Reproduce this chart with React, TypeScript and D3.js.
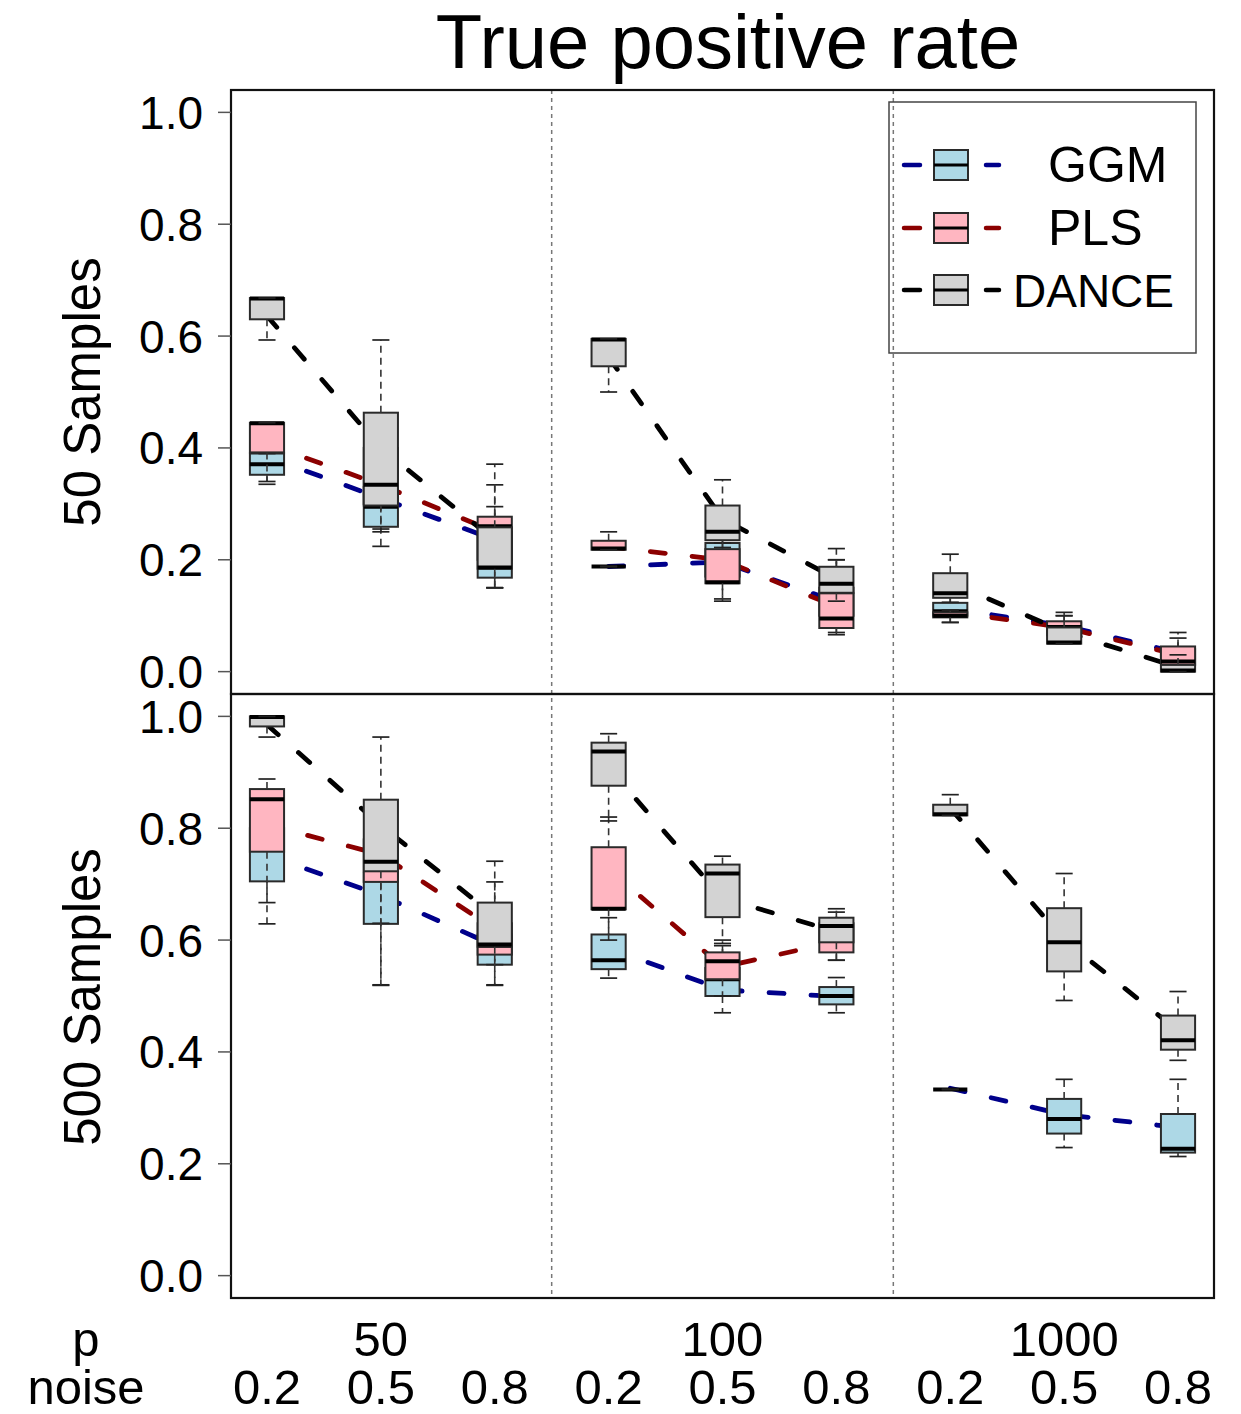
import React from 'react';
import * as d3 from 'd3';

// box stats per position: [lower whisker, q1, median, q3, upper whisker]
type Stat = number[] | null;

const pLabels = ['50', '100', '1000'];
const noiseLabels = ['0.2', '0.5', '0.8', '0.2', '0.5', '0.8', '0.2', '0.5', '0.8'];
const methods = ['GGM', 'PLS', 'DANCE'];

// 50 samples
const ggm50: Stat[] = [
  [0.335, 0.352, 0.371, 0.39, 0.39],
  [0.224, 0.259, 0.295, 0.33, 0.38],
  [0.15, 0.168, 0.19, 0.25, 0.295],
  [0.188, 0.188, 0.188, 0.188, 0.188],
  [0.13, 0.17, 0.2, 0.23, 0.26],
  [0.07, 0.1, 0.12, 0.15, 0.2],
  [0.088, 0.1, 0.108, 0.123, 0.135],
  [0.06, 0.07, 0.08, 0.088, 0.1],
  [0.005, 0.015, 0.025, 0.04, 0.06],
];
const pls50: Stat[] = [
  [0.34, 0.392, 0.444, 0.445, 0.445],
  [0.25, 0.3, 0.32, 0.4, 0.45],
  [0.15, 0.2, 0.26, 0.277, 0.334],
  [0.218, 0.218, 0.22, 0.234, 0.25],
  [0.126, 0.158, 0.16, 0.219, 0.23],
  [0.066, 0.078, 0.095, 0.14, 0.2],
  [0.088, 0.097, 0.1, 0.106, 0.11],
  [0.055, 0.065, 0.08, 0.09, 0.1],
  [0.005, 0.012, 0.018, 0.045, 0.07],
];
const dance50: Stat[] = [
  [0.593, 0.63, 0.667, 0.668, 0.668],
  [0.255, 0.297, 0.334, 0.463, 0.593],
  [0.15, 0.184, 0.186, 0.258, 0.371],
  [0.5, 0.546, 0.594, 0.595, 0.595],
  [0.222, 0.235, 0.25, 0.297, 0.343],
  [0.126, 0.141, 0.157, 0.1875, 0.22],
  [0.124, 0.132, 0.14, 0.176, 0.21],
  [0.05, 0.05, 0.052, 0.079, 0.106],
  [0.0, 0.0, 0.002, 0.012, 0.03],
];
const ggm50Mean = [0.384, 0.31, 0.236, 0.188, 0.196, 0.125, 0.113, 0.082, 0.034];
const pls50Mean = [0.407, 0.334, 0.25, 0.223, 0.2, 0.116, 0.107, 0.079, 0.03];
const dance50Mean = [0.636, 0.4, 0.235, 0.5625, 0.273, 0.166, 0.16, 0.071, 0.008];

// 500 samples
const ggm500: Stat[] = [
  [0.629, 0.705, 0.78, 0.8, 0.85],
  [0.52, 0.629, 0.71, 0.72, 0.8],
  [0.519, 0.556, 0.58, 0.61, 0.66],
  [0.532, 0.548, 0.564, 0.61, 0.64],
  [0.47, 0.5, 0.53, 0.55, 0.59],
  [0.47, 0.485, 0.5, 0.516, 0.533],
  [0.333, 0.333, 0.333, 0.333, 0.333],
  [0.229, 0.254, 0.28, 0.316, 0.351],
  [0.213, 0.22, 0.227, 0.289, 0.351],
];
const pls500: Stat[] = [
  [0.667, 0.758, 0.852, 0.87, 0.888],
  [0.63, 0.704, 0.73, 0.78, 0.84],
  [0.556, 0.574, 0.59, 0.63, 0.704],
  [0.6, 0.655, 0.656, 0.766, 0.82],
  [0.5, 0.53, 0.562, 0.578, 0.6],
  [0.564, 0.578, 0.6, 0.63, 0.65],
  null,
  null,
  null,
];
const dance500: Stat[] = [
  [0.963, 0.982, 0.999, 1.0, 1.0],
  [0.519, 0.723, 0.74, 0.851, 0.963],
  [0.52, 0.588, 0.592, 0.667, 0.741],
  [0.813, 0.876, 0.937, 0.953, 0.969],
  [0.594, 0.641, 0.719, 0.735, 0.75],
  [0.564, 0.596, 0.625, 0.64, 0.656],
  [0.823, 0.823, 0.825, 0.842, 0.86],
  [0.492, 0.544, 0.596, 0.657, 0.719],
  [0.385, 0.404, 0.421, 0.465, 0.508],
];
const ggm500Mean = [0.752, 0.68, 0.59, 0.586, 0.511, 0.499, 0.335, 0.288, 0.265];
const pls500Mean: (number | null)[] = [0.806, 0.753, 0.62, 0.727, 0.552, 0.597, null, null, null];
const dance500Mean = [0.985, 0.805, 0.643, 0.908, 0.675, 0.615, 0.836, 0.6, 0.438];

const fills = ['#ADD8E6', '#FFB6C1', '#D3D3D3'];
const lineCols = ['#00008B', '#8B0000', '#000000'];
const font = '"Liberation Sans", Arial, Helvetica, sans-serif';

const left = 231, right = 1214;
const x = d3.scaleLinear().domain([0.684, 9.316]).range([left, right]);
const halfW = x(1.15) - x(1);

const Box = ({ s, pos, y, fill }: { s: number[]; pos: number; y: d3.ScaleLinear<number, number>; fill: string }) => {
  const cx = x(pos);
  const [lo, q1, med, q3, hi] = s;
  return (
    <g>
      <rect x={cx - halfW} y={y(q3)} width={2 * halfW} height={Math.max(0, y(q1) - y(q3))}
        fill={fill} stroke="#2a2a2a" strokeWidth={2} />
      <line x1={cx - halfW} x2={cx + halfW} y1={y(med)} y2={y(med)} stroke="#000" strokeWidth={4} />
      <line x1={cx} x2={cx} y1={y(q1)} y2={y(lo)} stroke="#333" strokeWidth={1.6} strokeDasharray="7 5" />
      <line x1={cx} x2={cx} y1={y(q3)} y2={y(hi)} stroke="#333" strokeWidth={1.6} strokeDasharray="7 5" />
      <line x1={cx - halfW / 2} x2={cx + halfW / 2} y1={y(lo)} y2={y(lo)} stroke="#222" strokeWidth={1.7} />
      <line x1={cx - halfW / 2} x2={cx + halfW / 2} y1={y(hi)} y2={y(hi)} stroke="#222" strokeWidth={1.7} />
    </g>
  );
};

const Panel = ({ top, bottom, stats, means }: {
  top: number; bottom: number; stats: Stat[][]; means: (number | null)[][];
}) => {
  const y = d3.scaleLinear().domain([-0.04, 1.04]).range([bottom, top]);
  const line = d3.line<[number, number | null]>()
    .defined(d => d[1] != null)
    .x(d => x(d[0]))
    .y(d => y(d[1] as number));
  return (
    <g>
      {means.map((m, k) => (
        <g key={k}>
          {[0, 1, 2].map(g => {
            const pts: [number, number | null][] = [0, 1, 2].map(j => [g * 3 + j + 1, m[g * 3 + j]]);
            return (
              <path key={g} d={line(pts) || ''} fill="none" stroke={lineCols[k]} strokeWidth={4.8}
                strokeDasharray="15 27" strokeLinecap="round" />
            );
          })}
        </g>
      ))}
      {stats.map((arr, k) => (
        <g key={k}>
          {arr.map((s, i) => s ? <Box key={i} s={s} pos={i + 1} y={y} fill={fills[k]} /> : null)}
        </g>
      ))}
      <rect x={left} y={top} width={right - left} height={bottom - top} fill="none" stroke="#111" strokeWidth={2.2} />
      {y.ticks(5).map(t => (
        <g key={t}>
          <line x1={left - 13} x2={left} y1={y(t)} y2={y(t)} stroke="#555" strokeWidth={1.5} />
          <text x={203} y={y(t)} dy="0.36em" textAnchor="end" fontSize={46} fontFamily={font}>
            {d3.format('.1f')(t)}
          </text>
        </g>
      ))}
    </g>
  );
};

export default function App() {
  const legendY = [165, 228, 290];
  const legendTextX = [1048, 1048, 1013];
  return (
    <svg width={1241} height={1414} style={{ position: 'absolute', left: 0, top: 0, background: '#fff' }}>
      <text x={728} y={68} textAnchor="middle" fontSize={76} fontFamily={font}>True positive rate</text>
      {[3.5, 6.5].map(v => (
        <line key={v} x1={x(v)} x2={x(v)} y1={90} y2={1298} stroke="#777" strokeWidth={1.5} strokeDasharray="4 4" />
      ))}
      <Panel top={90} bottom={694} stats={[ggm50, pls50, dance50]} means={[ggm50Mean, pls50Mean, dance50Mean]} />
      <Panel top={694} bottom={1298} stats={[ggm500, pls500, dance500]} means={[ggm500Mean, pls500Mean, dance500Mean]} />
      <text transform="translate(100,392) rotate(-90)" textAnchor="middle" fontSize={51} fontFamily={font}>50 Samples</text>
      <text transform="translate(100,997) rotate(-90)" textAnchor="middle" fontSize={51} fontFamily={font}>500 Samples</text>
      <text x={86} y={1356} textAnchor="middle" fontSize={49} fontFamily={font}>p</text>
      <text x={86} y={1404} textAnchor="middle" fontSize={49} fontFamily={font}>noise</text>
      {pLabels.map((p, i) => (
        <text key={p} x={x(i * 3 + 2)} y={1356} textAnchor="middle" fontSize={49} fontFamily={font}>{p}</text>
      ))}
      {noiseLabels.map((n, i) => (
        <text key={i} x={x(i + 1)} y={1404} textAnchor="middle" fontSize={49} fontFamily={font}>{n}</text>
      ))}
      <rect x={889} y={102} width={307} height={251} fill="none" stroke="#444" strokeWidth={1.5} />
      {methods.map((m, k) => (
        <g key={m}>
          <line x1={904} x2={920} y1={legendY[k]} y2={legendY[k]} stroke={lineCols[k]} strokeWidth={4.5} strokeLinecap="round" />
          <line x1={986} x2={999} y1={legendY[k]} y2={legendY[k]} stroke={lineCols[k]} strokeWidth={4.5} strokeLinecap="round" />
          <rect x={934} y={legendY[k] - 15} width={34} height={30} fill={fills[k]} stroke="#2a2a2a" strokeWidth={2} />
          <line x1={934} x2={968} y1={legendY[k]} y2={legendY[k]} stroke="#000" strokeWidth={3} />
          <text x={legendTextX[k]} y={legendY[k] + 17} fontSize={k === 2 ? 46 : 50} fontFamily={font}>{m}</text>
        </g>
      ))}
    </svg>
  );
}
